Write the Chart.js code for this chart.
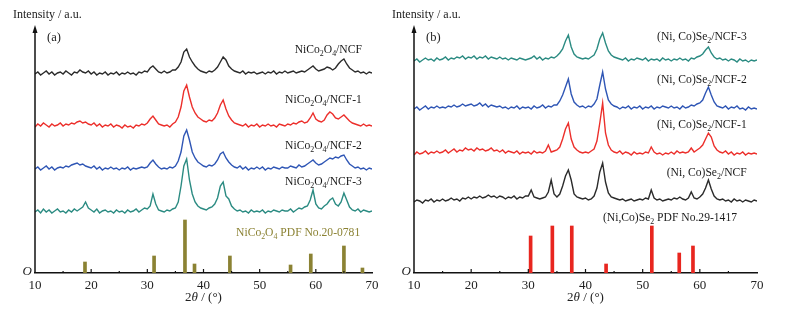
<!DOCTYPE html>
<html>
<head>
<meta charset="utf-8">
<script src="https://cdn.jsdelivr.net/npm/chart.js@4"></script>
<style>
body { margin: 0; background: #fff; }
#wrap { display: flex; width: 785px; height: 310px; }
canvas { display: block; }
</style>
</head>
<body>
<div id="wrap">
  <canvas id="left" width="392" height="310"></canvas>
  <canvas id="right" width="393" height="310"></canvas>
</div>
<script>
// 2theta grid, 10..70 deg, 0.5 deg step
const twoTheta = [];
for (let i = 0; i <= 120; i++) twoTheta.push(10 + i * 0.5);

const xTickValues = [10, 20, 30, 40, 50, 60, 70];
const xMinorTicks = [15, 25, 35, 45, 55, 65];

// panel (a): NiCo2O4 samples, intensity above each baseline
const ncoNCF = [
  0, 2, -1, 1, 3, 0, 2, -1, 1, 2,
  0, 3, 1, -1, 2, 1, 4, 2, 1, 3,
  0, 2, -1, 1, 0, 2, -1, 1, 0, 2,
  -1, 1, 0, 2, 0, 1, -1, 2, 1, 3,
  2, 6, 8, 5, 2, 1, 3, 1, 2, 4,
  4, 7, 12, 22, 25, 17, 12, 8, 5, 3,
  2, 1, 3, 2, 4, 7, 12, 17, 14, 8,
  5, 3, 2, 1, 3, 0, 2, 1, 2, 0,
  1, 2, 0, 2, 1, 3, 0, 2, 1, 3,
  1, 2, 3, 1, 2, 3, 2, 4, 6, 8,
  5, 3, 4, 5, 7, 6, 4, 6, 10, 13,
  15, 10, 6, 4, 2, 3, 1, 2, 0, 2, 1
];
const ncoNCF1 = [
  0, 3, 1, 4, 2, 0, 3, 1, 2, 4,
  1, 3, 2, 4, 3, 5, 6, 4, 5, 3,
  2, 4, 1, 3, 0, 2, 1, 3, 0, 2,
  1, -1, 2, 0, 1, -1, 2, 1, 3, 2,
  4, 8, 11, 7, 3, 2, 1, 2, 0, 3,
  5, 10, 20, 36, 42, 30, 20, 14, 10, 8,
  6, 5, 7, 6, 9, 14, 22, 27, 18, 11,
  7, 4, 3, 2, 1, 3, 0, 2, 1, 3,
  0, 2, 1, 3, 1, 2, 0, 3, 2, 1,
  3, 2, 4, 3, 5, 6, 4, 5, 9, 14,
  8, 6, 5, 7, 12, 15, 13, 9, 8, 10,
  12, 9, 6, 4, 3, 2, 1, 3, 1, 2, 1
];
const ncoNCF2 = [
  1, 3, 0, 2, 4, 1, 3, 0, 2, 3,
  2, 4, 3, 5, 6, 7, 5, 6, 4, 3,
  2, 4, 1, 3, 0, 2, 1, 3, 1, 2,
  0, 2, 1, 3, 0, 2, 1, 2, 3, 2,
  3, 7, 10, 6, 3, 1, 2, 1, 3, 2,
  4, 9, 18, 34, 40, 30, 18, 12, 8, 6,
  4, 3, 5, 4, 6, 10, 16, 18, 12, 8,
  5, 3, 2, 4, 1, 3, 0, 2, 1, 3,
  1, 3, 0, 2, 1, 3, 2, 1, 3, 2,
  2, 4, 3, 2, 5, 3, 4, 6, 8, 10,
  7, 5, 6, 8, 10, 12, 11, 13, 12, 14,
  15, 10, 6, 4, 2, 3, 1, 2, 0, 2, 1
];
const ncoNCF3 = [
  2, 4, 1, 5, 2, 4, 1, 3, 5, 2,
  3, 1, 4, 2, 5, 3, 5, 7, 12, 6,
  4, 2, 5, 1, 3, 4, 2, 3, 1, 4,
  2, 3, 1, 4, 2, 3, 5, 2, 4, 6,
  5, 8, 20, 10, 4, 3, 2, 4, 3, 5,
  6, 12, 28, 48, 55, 34, 20, 12, 8, 6,
  5, 4, 6, 7, 10, 16, 28, 32, 18, 15,
  8, 5, 3, 4, 2, 3, 1, 4, 2, 3,
  2, 4, 1, 3, 2, 4, 3, 2, 4, 3,
  3, 5, 2, 4, 6, 5, 7, 8, 14, 24,
  10, 6, 5, 8, 10, 14, 16, 10, 8, 12,
  21, 14, 7, 4, 3, 5, 2, 4, 3, 2, 3
];
const ncoSeries = [ncoNCF, ncoNCF1, ncoNCF2, ncoNCF3];
const ncoOffsets = [199, 146, 103, 59];
const ncoLabels = ['NiCo_2O_4/NCF', 'NiCo_2O_4/NCF-1', 'NiCo_2O_4/NCF-2', 'NiCo_2O_4/NCF-3'];
const ncoLabelY = [223, 173, 127, 91];
const ncoPdfPos = [18.9, 31.2, 36.7, 38.4, 44.7, 55.5, 59.1, 65.0, 68.3];
const ncoPdfInt = [11, 17, 53, 9, 17, 8, 19, 27, 5];
const ncoPdfLabel = 'NiCo_2O_4 PDF No.20-0781';

// panel (b): (Ni,Co)Se2 samples
const seNCF = [
  0, 2, 1, -1, 2, 1, 3, 0, 2, 1,
  3, 1, 2, 4, 2, 3, 1, 4, 3, 5,
  3, 5, 4, 6, 4, 5, 7, 5, 6, 4,
  6, 5, 3, 5, 4, 6, 3, 5, 4, 6,
  6, 12, 5, 4, 3, 4, 5, 10, 22, 8,
  5, 8, 16, 26, 32, 22, 8, 5, 4, 3,
  4, 2, 3, 6, 14, 30, 39, 20, 9, 5,
  4, 3, 2, 3, 1, 2, 3, 1, 2, 3,
  2, 4, 3, 12, 4, 2, 3, 1, 2, 3,
  2, 4, 3, 5, 3, 2, 4, 10, 4, 3,
  5, 8, 14, 22, 13, 6, 3, 2, 3, 1,
  2, 0, 3, 1, 2, 0, 2, 1, 0, 2, 1
];
const seNCF1 = [
  0, 3, 1, 2, 4, 1, 3, 2, 4, 2,
  3, 5, 2, 4, 6, 3, 5, 4, 7, 5,
  6, 4, 7, 5, 6, 4, 5, 7, 4, 5,
  3, 5, 2, 4, 3, 2, 4, 1, 3, 2,
  3, 1, 4, 2, 3, 2, 4, 10, 3, 4,
  5, 8, 16, 26, 32, 16, 8, 5, 3, 2,
  3, 2, 4, 6, 14, 32, 52, 22, 10, 5,
  3, 2, 4, 1, 3, 2, 0, 3, 1, 2,
  1, 3, 2, 8, 3, 1, 2, 0, 2, 1,
  3, 1, 4, 2, 3, 2, 3, 7, 3, 5,
  7, 10, 16, 22, 18, 9, 5, 3, 2, 4,
  1, 3, 0, 2, 1, 3, 0, 2, 1, 2, 1
];
const seNCF2 = [
  0, 2, -1, 1, 3, 0, 2, 1, 3, 1,
  2, 1, 3, 2, 4, 2, 3, 5, 3, 4,
  5, 3, 4, 6, 3, 5, 2, 4, 3, 2,
  3, 1, 2, 0, 2, 1, 3, 0, 2, 1,
  2, 0, 3, 1, 2, 4, 1, 3, 2, 4,
  4, 8, 14, 22, 30, 15, 7, 4, 2, 3,
  1, 3, 2, 5, 10, 24, 37, 20, 9, 5,
  3, 2, 0, 2, 1, 3, 0, 2, 1, 3,
  0, 2, 1, 3, 0, 2, 1, 3, 2, 1,
  3, 1, 2, 0, 3, 1, 2, 4, 3, 5,
  6, 9, 16, 22, 14, 7, 3, 2, 1, 3,
  0, 2, 1, 3, 0, 1, -1, 2, 0, 1, 0
];
const seNCF3 = [
  0, 2, -1, 1, 3, 1, 2, 0, 3, 1,
  2, 4, 1, 3, 2, 4, 3, 5, 2, 4,
  3, 5, 2, 4, 3, 5, 2, 4, 3, 2,
  4, 2, 3, 1, 3, 2, 1, 3, 2, 1,
  2, 3, 5, 2, 4, 1, 3, 2, 4, 3,
  5, 8, 12, 20, 26, 14, 7, 4, 3, 2,
  3, 2, 4, 6, 12, 22, 28, 18, 10, 6,
  4, 3, 2, 1, 3, 0, 2, 1, 3, 2,
  1, 3, 0, 2, 1, 2, 0, 3, 1, 2,
  0, 2, 1, 3, 1, 2, 0, 3, 2, 4,
  5, 7, 11, 14, 8, 4, 2, 3, 1, 2,
  0, 2, 1, -1, 2, 0, 1, -1, 1, 0, 1
];
const seSeries = [seNCF, seNCF1, seNCF2, seNCF3];
const seOffsets = [71, 118, 164, 212];
const seLabels = ['(Ni, Co)Se_2/NCF', '(Ni, Co)Se_2/NCF-1', '(Ni, Co)Se_2/NCF-2', '(Ni, Co)Se_2/NCF-3'];
const seLabelY = [100, 148, 193, 236];
const sePdfPos = [30.4, 34.2, 37.6, 43.6, 51.6, 56.4, 58.8];
const sePdfInt = [37, 47, 47, 9, 47, 20, 27];
const sePdfLabel = '(Ni,Co)Se_2 PDF No.29-1417';

const lineColors = ['#2b2b2b', '#ec2f2b', '#2f56b5', '#2b8b82'];
const serif = '"Liberation Serif", "DejaVu Serif", serif';

// text with "_d" subscripts
function drawRich(ctx, text, x, y, size, color, align) {
  const parts = text.split(/_(\d)/);
  const subSize = size * 0.68;
  let w = 0;
  parts.forEach((p, i) => {
    ctx.font = (i % 2 ? subSize : size) + 'px ' + serif;
    w += ctx.measureText(p).width;
  });
  let cx = align === 'right' ? x - w : align === 'center' ? x - w / 2 : x;
  ctx.fillStyle = color;
  ctx.textAlign = 'left';
  ctx.textBaseline = 'middle';
  parts.forEach((p, i) => {
    const sub = i % 2 === 1;
    ctx.font = (sub ? subSize : size) + 'px ' + serif;
    ctx.fillText(p, cx, sub ? y + 3.5 : y);
    cx += ctx.measureText(p).width;
  });
}

const panelDeco = {
  id: 'panelDeco',
  afterDraw(chart, args, opts) {
    const { ctx, chartArea: a, scales: { x, y } } = chart;
    ctx.save();
    ctx.strokeStyle = '#111';
    ctx.fillStyle = '#111';
    ctx.lineWidth = 1.5;
    // y axis with arrow head
    ctx.beginPath();
    ctx.moveTo(a.left, a.bottom);
    ctx.lineTo(a.left, a.top + 6);
    ctx.stroke();
    ctx.beginPath();
    ctx.moveTo(a.left, a.top);
    ctx.lineTo(a.left - 2.5, a.top + 8);
    ctx.lineTo(a.left + 2.5, a.top + 8);
    ctx.closePath();
    ctx.fill();
    // inward ticks
    ctx.lineWidth = 1.2;
    xTickValues.slice(1, -1).forEach(v => {
      const px = x.getPixelForValue(v);
      ctx.beginPath(); ctx.moveTo(px, a.bottom); ctx.lineTo(px, a.bottom - 4); ctx.stroke();
    });
    xMinorTicks.forEach(v => {
      const px = x.getPixelForValue(v);
      ctx.beginPath(); ctx.moveTo(px, a.bottom); ctx.lineTo(px, a.bottom - 2); ctx.stroke();
    });
    // axis texts
    ctx.font = '12px ' + serif;
    ctx.textAlign = 'left';
    ctx.textBaseline = 'middle';
    ctx.fillStyle = '#222';
    ctx.fillText('Intensity / a.u.', a.left - 22, 15);
    ctx.font = 'italic 13px ' + serif;
    ctx.textAlign = 'right';
    ctx.fillText('O', a.left - 3, a.bottom - 1);
    ctx.font = '12.5px ' + serif;
    ctx.textAlign = 'left';
    ctx.fillText(opts.letter, a.left + 12, 38);
    // x title: 2θ / (°)
    const cx = (a.left + a.right) / 2;
    const ty = 298;
    const p1 = '2', p2 = 'θ', p3 = ' / (°)';
    ctx.font = '13px ' + serif; const w1 = ctx.measureText(p1).width; const w3 = ctx.measureText(p3).width;
    ctx.font = 'italic 13px ' + serif; const w2 = ctx.measureText(p2).width;
    let sx = cx - (w1 + w2 + w3) / 2;
    ctx.font = '13px ' + serif; ctx.fillText(p1, sx, ty); sx += w1;
    ctx.font = 'italic 13px ' + serif; ctx.fillText(p2, sx, ty); sx += w2;
    ctx.font = '13px ' + serif; ctx.fillText(p3, sx, ty);
    // sample labels
    opts.labels.forEach((t, i) => {
      drawRich(ctx, t, x.getPixelForValue(68.2), y.getPixelForValue(opts.labelY[i]), 11.6, '#1a1a1a', 'right');
    });
    drawRich(ctx, opts.pdfLabel, x.getPixelForValue(opts.pdfX), y.getPixelForValue(opts.pdfY), 11.6, opts.pdfColor, 'right');
    ctx.restore();
  }
};

function makePanel(id, series, offsets, pdfPos, pdfInt, pdfColor, pad, deco) {
  const datasets = series.map((raw, i) => ({
    type: 'line',
    data: raw.map((v, k) => ({ x: twoTheta[k], y: v + offsets[i] })),
    borderColor: lineColors[i],
    borderWidth: 1.4,
    pointRadius: 0,
    tension: 0,
    fill: false
  }));
  datasets.push({
    type: 'bar',
    data: pdfPos.map((p, i) => ({ x: p, y: pdfInt[i] })),
    backgroundColor: pdfColor,
    barThickness: 3
  });
  new Chart(document.getElementById(id), {
    type: 'line',
    data: { datasets },
    options: {
      responsive: false,
      animation: false,
      devicePixelRatio: 1,
      layout: { padding: pad },
      plugins: { legend: { display: false }, tooltip: { enabled: false }, panelDeco: deco },
      scales: {
        x: {
          type: 'linear', min: 10, max: 70, offset: false,
          afterBuildTicks: s => { s.ticks = xTickValues.map(v => ({ value: v })); },
          afterFit: s => { s.height = 37; },
          grid: { display: false, drawTicks: false },
          border: { display: true, color: '#111', width: 1.5 },
          ticks: { font: { family: serif, size: 13 }, color: '#222', padding: 5, maxRotation: 0 }
        },
        y: { display: false, min: 0, max: 248 }
      }
    },
    plugins: [panelDeco]
  });
}

makePanel('left', ncoSeries, ncoOffsets, ncoPdfPos, ncoPdfInt, '#8b8233',
  { left: 35, right: 20, top: 25, bottom: 0 },
  { letter: '(a)', labels: ncoLabels, labelY: ncoLabelY, pdfLabel: ncoPdfLabel, pdfX: 67.9, pdfY: 40, pdfColor: '#8b8233' });

makePanel('right', seSeries, seOffsets, sePdfPos, sePdfInt, '#e8261f',
  { left: 22, right: 28, top: 25, bottom: 0 },
  { letter: '(b)', labels: seLabels, labelY: seLabelY, pdfLabel: sePdfLabel, pdfX: 66.5, pdfY: 55, pdfColor: '#1a1a1a' });
</script>
</body>
</html>
